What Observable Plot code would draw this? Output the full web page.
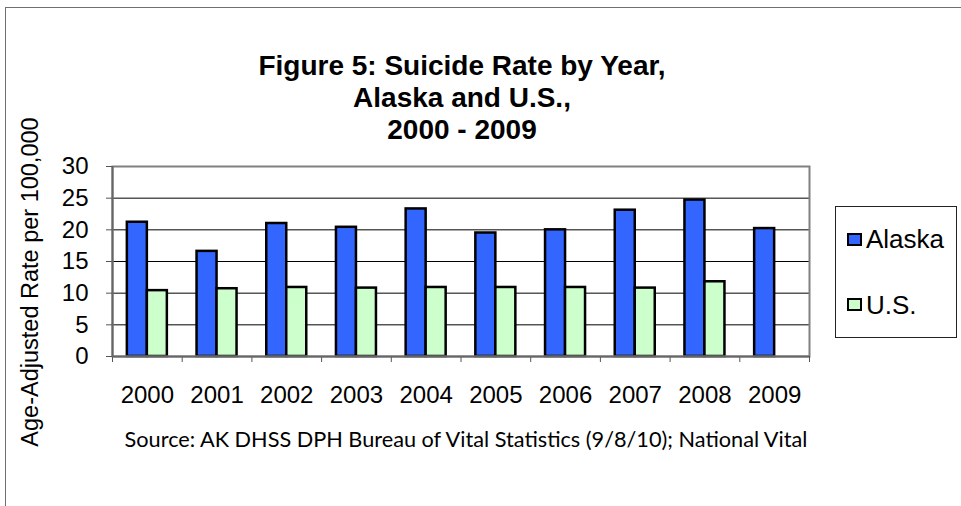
<!DOCTYPE html>
<html>
<head>
<meta charset="utf-8">
<script src="https://cdn.jsdelivr.net/npm/d3@7"></script>
<script src="https://cdn.jsdelivr.net/npm/@observablehq/plot@0.6"></script>
<style>
  html, body { margin: 0; padding: 0; background: #fff; overflow: hidden; }
  #chart { position: relative; width: 961px; height: 506px; overflow: hidden; font-family: "Liberation Sans", Arial, sans-serif; }
  #chart svg { position: absolute; left: 0; top: 0; }
  .border { position: absolute; left: 5px; top: 7px; width: 1000px; height: 600px; border: 1.5px solid #707070; }
  .title { position: absolute; left: 162px; width: 600px; top: 50px; text-align: center; font-weight: bold; font-size: 28px; line-height: 32px; color: #000; white-space: nowrap; }
  .ylabel { position: absolute; left: -170px; top: 269px; width: 400px; height: 26px; line-height: 26px; text-align: center; font-size: 23.5px; color: #000; transform: rotate(-90deg); transform-origin: 50% 50%; white-space: nowrap; }
  .legend { position: absolute; left: 835px; top: 206px; width: 120px; height: 130px; border: 1px solid #222; background: #fff; }
  .legend .sw { position: absolute; left: 11px; width: 11px; height: 9px; border: 2px solid #000; }
  .legend .lab { position: absolute; left: 30px; font-size: 26px; line-height: 26px; color: #000; white-space: nowrap; }
  .source { position: absolute; left: 0; width: 932px; top: 426px; text-align: center; font-family: Lato, "Open Sans", sans-serif; font-size: 21.7px; color: #000; white-space: nowrap; }
</style>
</head>
<body>
<div id="chart"></div>
<script>
// ---- data ----
const years = ["2000", "2001", "2002", "2003", "2004", "2005", "2006", "2007", "2008", "2009"];
const alaska = [21.2, 16.6, 21.0, 20.4, 23.3, 19.5, 20.0, 23.1, 24.7, 20.2];
const us = [10.4, 10.7, 10.9, 10.8, 10.9, 10.9, 10.9, 10.8, 11.8, null];
const seriesNames = ["Alaska", "U.S."];
const seriesColors = ["#3366FF", "#CCFFCC"];
const yTicks = [0, 5, 10, 15, 20, 25, 30];
const titleLines = ["Figure 5: Suicide Rate by Year,", "Alaska and U.S.,", "2000 - 2009"];
const yLabel = "Age-Adjusted Rate per 100,000";
const sourceText = "Source: AK DHSS DPH Bureau of Vital Statistics (9/8/10); National Vital";

// ---- table ----
const rows = [];
years.forEach((year, i) => {
  rows.push({year, series: seriesNames[0], value: alaska[i]});
  if (us[i] != null) rows.push({year, series: seriesNames[1], value: us[i]});
});

// ---- layout ----
const W = 961, H = 506;
const mLeft = 112, mRight = 152, mTop = 166, mBottom = 150;
const bw = (W - mLeft - mRight) / years.length;
const barW = 20;
const gOff = (bw - 2 * barW) / 2;

const chart = Plot.plot({
  width: W,
  height: H,
  marginLeft: mLeft,
  marginRight: mRight,
  marginTop: mTop,
  marginBottom: mBottom,
  style: {fontFamily: "Liberation Sans, Arial, sans-serif", background: "transparent"},
  x: {type: "band", domain: years, padding: 0, round: false, label: null},
  y: {domain: [0, 30], label: null},
  color: {domain: seriesNames, range: seriesColors},
  marks: [
    Plot.gridY(yTicks.filter(t => t > 0 && t < 30), {stroke: "#000", strokeOpacity: 1, strokeWidth: 1}),
    Plot.barY(rows.filter(d => d.series === seriesNames[0]), {
      x: "year", y: "value", fill: "series", stroke: "#000", strokeWidth: 2.5,
      insetLeft: gOff, insetRight: bw - gOff - barW
    }),
    Plot.barY(rows.filter(d => d.series === seriesNames[1]), {
      x: "year", y: "value", fill: "series", stroke: "#000", strokeWidth: 2.5,
      insetLeft: gOff + barW, insetRight: gOff
    }),
    Plot.frame({stroke: "#808080", strokeWidth: 2}),
    Plot.ruleX(years, {x: d => d, y1: 0, y2: 0, insetBottom: -6, dx: -bw / 2, stroke: "#555"}),
    Plot.ruleX(years.slice(-1), {x: d => d, y1: 0, y2: 0, insetBottom: -6, dx: bw / 2, stroke: "#555"}),
    Plot.ruleX([years[0]], {x: d => d, y1: 0, y2: 30, dx: -bw / 2, stroke: "#666", strokeWidth: 2}),
    Plot.ruleY([0], {stroke: "#666", strokeWidth: 2}),
    Plot.axisY(yTicks, {tickSize: 6, tickPadding: 18, fontSize: 24, stroke: "#555", label: null}),
    Plot.axisX({tickSize: 0, tickPadding: 29, fontSize: 24, label: null})
  ]
});

const root = document.getElementById("chart");
const border = document.createElement("div");
border.className = "border";
root.appendChild(border);
root.appendChild(chart);

const title = document.createElement("div");
title.className = "title";
titleLines.forEach(line => {
  const d = document.createElement("div");
  d.textContent = line;
  title.appendChild(d);
});
root.appendChild(title);

const ylab = document.createElement("div");
ylab.className = "ylabel";
ylab.textContent = yLabel;
root.appendChild(ylab);

const legend = document.createElement("div");
legend.className = "legend";
const swTops = [26, 91];
const labTops = [19, 85];
seriesNames.forEach((name, i) => {
  const sw = document.createElement("div");
  sw.className = "sw";
  sw.style.top = swTops[i] + "px";
  sw.style.background = seriesColors[i];
  const label = document.createElement("div");
  label.className = "lab";
  label.style.top = labTops[i] + "px";
  label.textContent = name;
  legend.appendChild(sw);
  legend.appendChild(label);
});
root.appendChild(legend);

const source = document.createElement("div");
source.className = "source";
source.textContent = sourceText;
root.appendChild(source);
</script>
</body>
</html>
